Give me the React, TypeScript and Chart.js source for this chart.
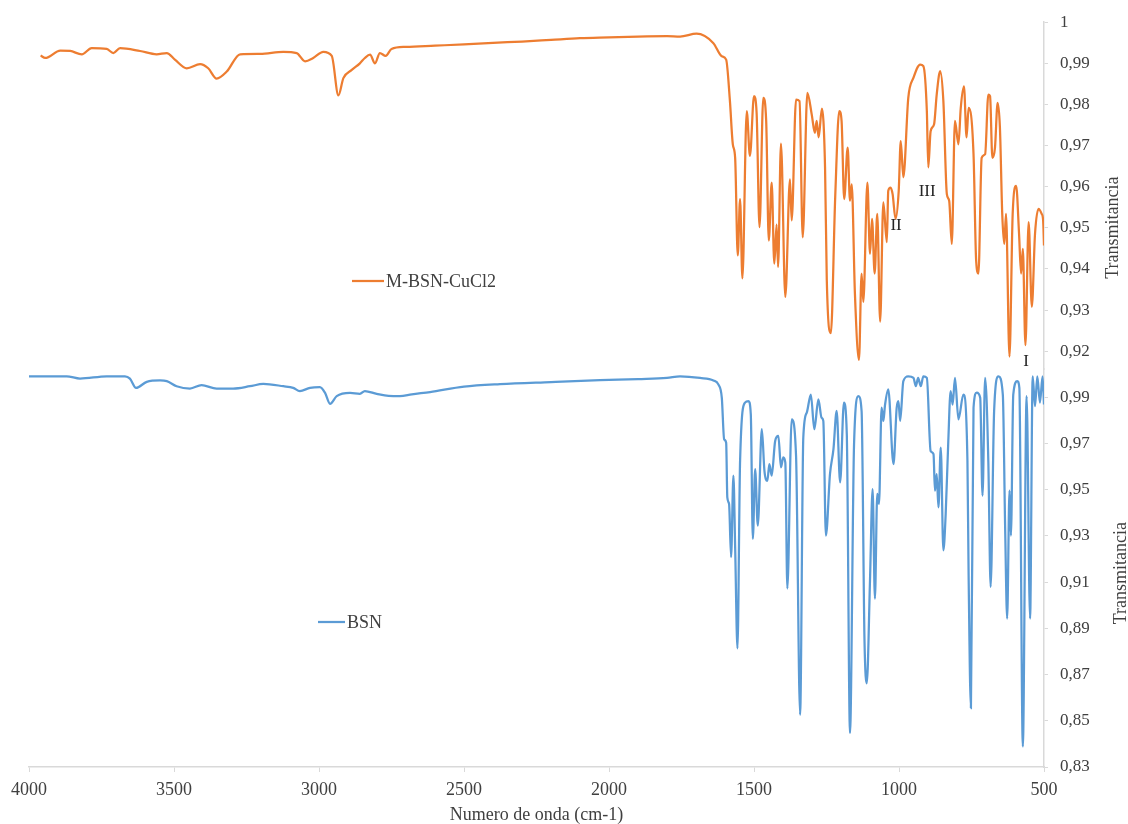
import React, { useEffect, useRef } from 'react';
import { Chart, registerables } from 'chart.js';

Chart.register(...registerables);

// ---- Data ----
const SERIES_NAMES = ['M-BSN-CuCl2', 'BSN'];

const WN_CU = [
  3960, 3944, 3892, 3858, 3818, 3784, 3732, 3709, 3686, 3617, 3560, 3525, 3497, 3456, 3410, 3382,
  3353, 3318, 3272, 3203, 3123, 3077, 3048, 3020, 2985, 2956, 2933, 2916, 2887, 2859, 2842, 2824,
  2807, 2790, 2770, 2750, 2700, 2600, 2500, 2400, 2300, 2200, 2100, 2000, 1900, 1800, 1755, 1698,
  1640, 1611, 1596, 1583, 1573, 1565, 1556, 1548, 1540, 1525, 1514, 1500, 1491, 1481, 1468, 1458,
  1449, 1439, 1430, 1422, 1417, 1407, 1392, 1376, 1370, 1355, 1343, 1332, 1316, 1301, 1290, 1284,
  1277, 1266, 1255, 1249, 1235, 1220, 1206, 1198, 1189, 1177, 1169, 1163, 1152, 1138, 1129, 1123,
  1109, 1100, 1093, 1084, 1075, 1065, 1054, 1042, 1037, 1029, 1022, 1012, 1001, 994, 985, 968,
  950, 927, 916, 904, 899, 891, 879, 870, 858, 847, 835, 827, 818, 807, 795, 787,
  776, 767, 760, 743, 734, 726, 715, 703, 692, 686, 678, 669, 660, 652, 644, 637,
  631, 619, 608, 596, 586, 579, 573, 564, 553, 542, 531, 519, 508, 503, 500,
];
const T_CU = [
  0.9919, 0.9913, 0.9931, 0.9930, 0.9922, 0.9937, 0.9935, 0.9925, 0.9937, 0.9930, 0.9922, 0.9925, 0.9909, 0.9888, 0.9898, 0.9888,
  0.9863, 0.9880, 0.9922, 0.9923, 0.9928, 0.9925, 0.9905, 0.9913, 0.9928, 0.9918, 0.9822, 0.9864, 0.9884, 0.9900, 0.9913, 0.9921,
  0.9900, 0.9925, 0.9918, 0.9935, 0.9940, 0.9943, 0.9946, 0.9950, 0.9953, 0.9957, 0.9961, 0.9963, 0.9965, 0.9966, 0.9965, 0.9972,
  0.9949, 0.9917, 0.9909, 0.9808, 0.9703, 0.9670, 0.9433, 0.9570, 0.9377, 0.9784, 0.9675, 0.9820, 0.9780, 0.9502, 0.9816, 0.9760,
  0.9469, 0.9610, 0.9413, 0.9508, 0.9405, 0.9705, 0.9332, 0.9618, 0.9518, 0.9812, 0.9808, 0.9477, 0.9828, 0.9776, 0.9731, 0.9760,
  0.9720, 0.9790, 0.9647, 0.9373, 0.9244, 0.9574, 0.9784, 0.9760, 0.9570, 0.9695, 0.9566, 0.9606, 0.9340, 0.9179, 0.9389, 0.9320,
  0.9610, 0.9437, 0.9522, 0.9389, 0.9534, 0.9272, 0.9562, 0.9465, 0.9590, 0.9598, 0.9582, 0.9522, 0.9590, 0.9711, 0.9623, 0.9816,
  0.9865, 0.9897, 0.9893, 0.9784, 0.9647, 0.9735, 0.9752, 0.9824, 0.9881, 0.9808, 0.9582, 0.9566, 0.9461, 0.9760, 0.9703, 0.9792,
  0.9844, 0.9720, 0.9792, 0.9679, 0.9421, 0.9389, 0.9670, 0.9679, 0.9824, 0.9820, 0.9670, 0.9695, 0.9804, 0.9744, 0.9534, 0.9461,
  0.9534, 0.9187, 0.9534, 0.9602, 0.9485, 0.9389, 0.9449, 0.9215, 0.9514, 0.9308, 0.9485, 0.9546, 0.9534, 0.9518, 0.9457,
];

const WN_BSN = [
  4000, 3870, 3824, 3732, 3669, 3652, 3631, 3594, 3548, 3525, 3491, 3445, 3405, 3353, 3296, 3238,
  3192, 3123, 3089, 3066, 3031, 2997, 2979, 2962, 2939, 2893, 2859, 2842, 2801, 2760, 2721, 2680,
  2617, 2500, 2376, 2200, 2031, 1900, 1800, 1755, 1686, 1640, 1623, 1611, 1603, 1596, 1592, 1586,
  1579, 1571, 1565, 1557, 1548, 1531, 1519, 1511, 1504, 1496, 1487, 1473, 1464, 1454, 1447, 1439,
  1427, 1416, 1407, 1399, 1392, 1385, 1370, 1355, 1341, 1330, 1318, 1304, 1292, 1278, 1267, 1261,
  1252, 1238, 1226, 1215, 1203, 1190, 1180, 1169, 1155, 1140, 1129, 1119, 1111, 1100, 1091, 1083,
  1075, 1069, 1060, 1054, 1048, 1037, 1019, 1008, 1002, 996, 985, 968, 950, 942, 934, 925,
  916, 904, 891, 881, 876, 870, 864, 856, 847, 839, 830, 822, 815, 807, 795, 778,
  764, 760, 752, 743, 732, 720, 712, 703, 692, 684, 672, 657, 642, 634, 627, 619,
  614, 606, 592, 585, 573, 560, 548, 539, 531, 523, 514, 505, 500,
];
const T_BSN = [
  0.9990, 0.9990, 0.9980, 0.9990, 0.9990, 0.9980, 0.9940, 0.9966, 0.9972, 0.9969, 0.9947, 0.9937, 0.9952, 0.9937, 0.9937, 0.9947,
  0.9957, 0.9947, 0.9940, 0.9926, 0.9940, 0.9943, 0.9918, 0.9871, 0.9904, 0.9918, 0.9914, 0.9926, 0.9914, 0.9905, 0.9904, 0.9912,
  0.9922, 0.9945, 0.9956, 0.9965, 0.9973, 0.9978, 0.9983, 0.9990, 0.9983, 0.9972, 0.9955, 0.9897, 0.9718, 0.9703, 0.9466, 0.9438,
  0.9208, 0.9560, 0.9251, 0.8813, 0.9624, 0.9876, 0.9883, 0.9825, 0.9287, 0.9588, 0.9344, 0.9761, 0.9581, 0.9538, 0.9610, 0.9560,
  0.9710, 0.9732, 0.9596, 0.9639, 0.9617, 0.9072, 0.9804, 0.9646, 0.8526, 0.9725, 0.9833, 0.9911, 0.9761, 0.9890, 0.9811, 0.9797,
  0.9301, 0.9567, 0.9675, 0.9840, 0.9531, 0.9876, 0.9739, 0.8447, 0.9696, 0.9904, 0.9840, 0.8849, 0.8662, 0.9107, 0.9502, 0.9028,
  0.9481, 0.9438, 0.9854, 0.9797, 0.9868, 0.9933, 0.9610, 0.9854, 0.9883, 0.9797, 0.9969, 0.9990, 0.9983, 0.9947, 0.9983, 0.9947,
  0.9990, 0.9983, 0.9667, 0.9653, 0.9495, 0.9567, 0.9423, 0.9682, 0.9237, 0.9395, 0.9710, 0.9926, 0.9868, 0.9983, 0.9804, 0.9911,
  0.9624, 0.9136, 0.8555, 0.9854, 0.9919, 0.9897, 0.9474, 0.9983, 0.9624, 0.9079, 0.9840, 0.9990, 0.9911, 0.9337, 0.8942, 0.9495,
  0.9301, 0.9911, 0.9969, 0.9940, 0.8389, 0.9904, 0.8942, 0.9990, 0.9861, 0.9990, 0.9876, 0.9990, 0.9868,
];

const X_TICKS = [4000, 3500, 3000, 2500, 2000, 1500, 1000, 500];
const TOP_TICKS = [1, 0.99, 0.98, 0.97, 0.96, 0.95, 0.94, 0.93, 0.92];
const BOT_TICKS = [0.99, 0.97, 0.95, 0.93, 0.91, 0.89, 0.87, 0.85, 0.83];

const X_TITLE = 'Numero de onda (cm-1)';
const Y_TITLE = 'Transmitancia';

const PEAK_LABELS = ['I', 'II', 'III'];
const PEAK_WN = [562, 1010, 903];
const PEAK_T = [0.9176, 0.9505, 0.9589];

// ---- Styles ----
const FONT = "'Liberation Serif', 'Times New Roman', serif";
const TEXT = '#404040';
const AXIS = '#D9D9D9';
const ORANGE = '#ED7D31';
const BLUE = '#5B9BD5';

const fmt = (v: number) => (v === 1 ? '1' : v.toFixed(2).replace('.', ','));

const overlay = {
  id: 'overlay',
  afterDraw(chart: any) {
    const ctx = chart.ctx;
    const top = chart.scales.yTop;
    const bot = chart.scales.yBot;
    const x = chart.scales.x;
    ctx.save();
    ctx.fillStyle = TEXT;
    ctx.font = `18px ${FONT}`;
    ctx.textAlign = 'center';
    ctx.textBaseline = 'middle';
    // rotated y titles
    const drawRot = (cx: number, cy: number) => {
      ctx.save();
      ctx.translate(cx, cy);
      ctx.rotate(-Math.PI / 2);
      ctx.fillText(Y_TITLE, 0, 0);
      ctx.restore();
    };
    drawRot(top.right - 15, (top.top + top.bottom) / 2 + 32);
    drawRot(bot.right - 7, (bot.top + bot.bottom) / 2 + 5);

    // legends
    const legends = [
      { name: SERIES_NAMES[0], color: ORANGE, x0: 352, x1: 384, y: 281 },
      { name: SERIES_NAMES[1], color: BLUE, x0: 318, x1: 345, y: 622 },
    ];
    ctx.textAlign = 'left';
    for (const l of legends) {
      ctx.strokeStyle = l.color;
      ctx.lineWidth = 2.25;
      ctx.beginPath();
      ctx.moveTo(l.x0, l.y);
      ctx.lineTo(l.x1, l.y);
      ctx.stroke();
      ctx.fillText(l.name, l.x1 + 2, l.y + 1);
    }

    // peak labels
    ctx.textAlign = 'center';
    ctx.font = `17px ${FONT}`;
    ctx.fillStyle = '#262626';
    PEAK_LABELS.forEach((t, i) => {
      ctx.fillText(t, x.getPixelForValue(PEAK_WN[i]), top.getPixelForValue(PEAK_T[i]));
    });
    ctx.restore();
  },
};

export default function App() {
  const ref = useRef<HTMLCanvasElement>(null);
  useEffect(() => {
    if (!ref.current) return;
    const tickFont = { family: FONT, size: 17 };
    const chart = new Chart(ref.current, {
      type: 'line',
      data: {
        datasets: [
          {
            label: SERIES_NAMES[0],
            data: WN_CU.map((w, i) => ({ x: w, y: T_CU[i] })),
            yAxisID: 'yTop',
            borderColor: ORANGE,
            borderWidth: 2.25,
            pointRadius: 0,
            fill: false,
            cubicInterpolationMode: 'monotone',
          },
          {
            label: SERIES_NAMES[1],
            data: WN_BSN.map((w, i) => ({ x: w, y: T_BSN[i] })),
            yAxisID: 'yBot',
            borderColor: BLUE,
            borderWidth: 2.25,
            pointRadius: 0,
            fill: false,
            cubicInterpolationMode: 'monotone',
          },
        ],
      },
      options: {
        animation: false,
        responsive: true,
        maintainAspectRatio: false,
        layout: { padding: { left: 29, top: 20, right: 0, bottom: 0 } },
        plugins: { legend: { display: false }, tooltip: { enabled: false } },
        scales: {
          x: {
            type: 'linear',
            position: 'bottom',
            reverse: true,
            min: 500,
            max: 4000,
            afterBuildTicks: (s: any) => {
              s.ticks = X_TICKS.map((v) => ({ value: v }));
            },
            afterFit: (s: any) => {
              s.height = 57;
            },
            ticks: {
              font: { family: FONT, size: 18 },
              color: TEXT,
              padding: 7,
              maxRotation: 0,
              autoSkip: false,
              callback: (v: any) => String(v),
            },
            grid: { drawOnChartArea: false, drawTicks: true, tickLength: 5, color: AXIS },
            border: { color: AXIS, width: 1.5 },
            title: {
              display: true,
              text: X_TITLE,
              color: TEXT,
              font: { family: FONT, size: 18, lineHeight: 1 },
              padding: { top: 0, bottom: 0 },
            },
          },
          yTop: {
            type: 'linear',
            position: 'right',
            stack: 'v',
            stackWeight: 348,
            min: 0.91564,
            max: 1,
            afterBuildTicks: (s: any) => {
              s.ticks = TOP_TICKS.map((v) => ({ value: v }));
            },
            afterFit: (s: any) => {
              s.width = 84;
            },
            ticks: { font: tickFont, color: TEXT, padding: 12, callback: (v: any) => fmt(Number(v)) },
            grid: { drawOnChartArea: false, drawTicks: true, tickLength: 4, color: AXIS },
            border: { color: AXIS, width: 1.5 },
          },
          yBot: {
            type: 'linear',
            position: 'right',
            stack: 'v',
            stackWeight: 399,
            min: 0.83,
            max: 1.00208,
            afterBuildTicks: (s: any) => {
              s.ticks = BOT_TICKS.map((v) => ({ value: v }));
            },
            afterFit: (s: any) => {
              s.width = 84;
            },
            ticks: { font: tickFont, color: TEXT, padding: 12, callback: (v: any) => fmt(Number(v)) },
            grid: { drawOnChartArea: false, drawTicks: true, tickLength: 4, color: AXIS },
            border: { color: AXIS, width: 1.5 },
          },
        },
      } as any,
      plugins: [overlay],
    });
    return () => chart.destroy();
  }, []);

  return (
    <div style={{ position: 'absolute', left: 0, top: 0, width: 1128, height: 824, background: '#fff' }}>
      <canvas ref={ref} />
    </div>
  );
}
